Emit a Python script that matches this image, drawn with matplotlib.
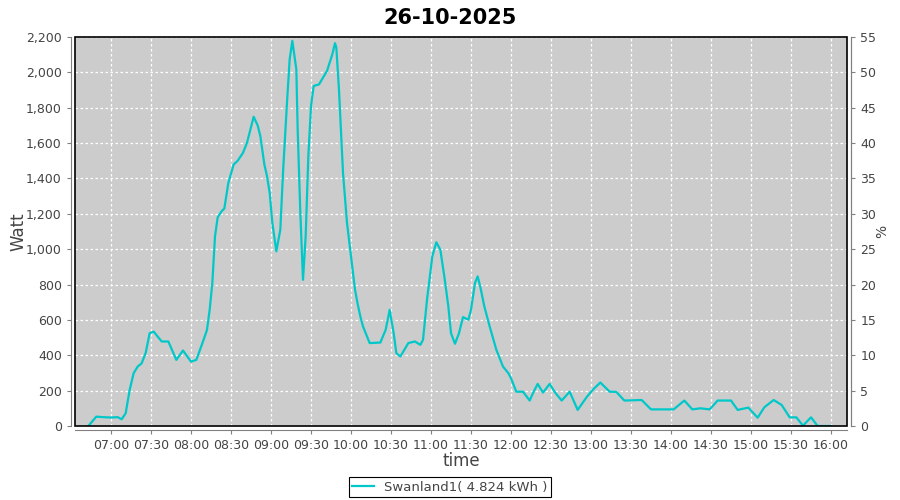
import matplotlib
matplotlib.use('Agg')
import matplotlib.pyplot as plt
import matplotlib.dates as mdates
from matplotlib.patches import Rectangle
from matplotlib.ticker import MultipleLocator, FuncFormatter
from datetime import datetime

# Meetwaarden (tijd, vermogen in Watt)
times = ['06:43', '06:49', '06:54', '07:00', '07:05', '07:08', '07:11', '07:14', '07:17', '07:20',
         '07:23', '07:26', '07:29', '07:32', '07:38', '07:43', '07:49', '07:54', '08:00', '08:04',
         '08:09', '08:12', '08:14', '08:16', '08:18', '08:20', '08:23', '08:25', '08:28', '08:32',
         '08:35', '08:39', '08:42', '08:47', '08:50', '08:52', '08:55', '08:57', '08:59', '09:01',
         '09:04', '09:07', '09:09', '09:12', '09:14', '09:16', '09:19', '09:20', '09:22', '09:24',
         '09:26', '09:28', '09:30', '09:32', '09:36', '09:42', '09:46', '09:48', '09:49', '09:51',
         '09:54', '09:57', '10:00', '10:03', '10:05', '10:07', '10:09', '10:14', '10:22', '10:26',
         '10:29', '10:32', '10:34', '10:37', '10:43', '10:48', '10:52', '10:54', '10:57', '11:01',
         '11:04', '11:07', '11:10', '11:13', '11:15', '11:18', '11:21', '11:24', '11:28', '11:30',
         '11:33', '11:35', '11:37', '11:40', '11:44', '11:49', '11:54', '11:58', '12:00', '12:04',
         '12:09', '12:14', '12:17', '12:20', '12:24', '12:29', '12:33', '12:38', '12:44', '12:50',
         '12:57', '13:02', '13:07', '13:14', '13:19', '13:25', '13:38', '13:45', '14:02', '14:10',
         '14:16', '14:22', '14:29', '14:35', '14:45', '14:50', '14:58', '15:05', '15:10', '15:17',
         '15:23', '15:29', '15:34', '15:39', '15:45', '15:50', '16:00']
watts = [0, 53, 50, 48, 50, 38, 72, 204, 299, 336,
         355, 413, 525, 534, 478, 478, 374, 427, 364, 374,
         478, 544, 657, 809, 1073, 1180, 1215, 1230, 1375, 1479,
         1500, 1545, 1602, 1749, 1700, 1640, 1480, 1413, 1320, 1149,
         988, 1111, 1432, 1829, 2074, 2178, 2017, 1677, 1205, 827,
         1073, 1526, 1809, 1923, 1932, 2008, 2102, 2165, 2140, 1900,
         1432, 1149, 960, 771, 690, 620, 563, 469, 472, 544,
         657, 525, 412, 393, 469, 478, 459, 487, 714, 960,
         1039, 997, 846, 676, 525, 465, 525, 616, 601, 657,
         809, 846, 786, 676, 563, 431, 336, 299, 270, 194,
         194, 144, 194, 238, 189, 238, 190, 144, 194, 91,
         166, 210, 246, 194, 193, 144, 147, 94, 94, 144,
         94, 100, 94, 144, 144, 91, 104, 47, 106, 147,
         119, 49, 49, 2, 49, 0, 0]

title = '26-10-2025'
series_label = 'Swanland1( 4.824 kWh )'

day = '2025-10-26 '
x = [datetime.strptime(day + t, '%Y-%m-%d %H:%M') for t in times]

fig = plt.figure(figsize=(9, 5), dpi=100)
ax = fig.add_axes([75/900, 74/500, 772/900, 389/500])
ax.set_facecolor('#cccccc')

ax.plot(x, watts, color='#00c8c8', linewidth=1.6, zorder=3)

# Assen
ax.set_xlim(datetime(2025, 10, 26, 6, 33), datetime(2025, 10, 26, 16, 12))
ax.set_ylim(0, 2200)
ax.xaxis.set_major_locator(mdates.MinuteLocator(byminute=[0, 30]))
ax.xaxis.set_major_formatter(mdates.DateFormatter('%H:%M'))
ax.yaxis.set_major_locator(MultipleLocator(200))
ax.yaxis.set_major_formatter(FuncFormatter(lambda v, p: f'{int(v):,}'))

ax.grid(True, color='white', linestyle=(0, (2, 2)), linewidth=0.9)
ax.set_axisbelow(True)

for s in ['left', 'bottom', 'right']:
    ax.spines[s].set_position(('outward', 3))
    ax.spines[s].set_color('#808080')
ax.spines['top'].set_visible(False)
ax.add_patch(Rectangle((0, 0), 1, 1, transform=ax.transAxes, fill=False,
                       edgecolor='black', linewidth=1.2, clip_on=False, zorder=5))

ax.tick_params(axis='both', labelsize=9, colors='#808080', labelcolor='#444444', length=3)
ax.set_ylabel('Watt', fontsize=12, color='#444444')
ax.yaxis.set_label_coords(-0.062, 0.5)
ax.set_xlabel('time', fontsize=12, color='#444444')
ax.xaxis.set_label_coords(0.5, -0.066)

# Rechter as in procent
ax2 = ax.twinx()
ax2.set_ylim(0, 55)
ax2.yaxis.set_major_locator(MultipleLocator(5))
ax2.spines['right'].set_position(('outward', 3))
ax2.spines['right'].set_color('#808080')
for s in ['left', 'top', 'bottom']:
    ax2.spines[s].set_visible(False)
ax2.tick_params(axis='y', labelsize=9, colors='#808080', labelcolor='#444444', length=3)
ax2.set_ylabel('%', fontsize=10, color='#444444')
ax2.yaxis.set_label_coords(1.037, 0.5)

fig.suptitle(title, fontsize=15, fontweight='bold', y=0.985)

leg = fig.legend([ax.lines[0]], [series_label], loc='lower center',
                 bbox_to_anchor=(0.5, 0.006), borderaxespad=0, fontsize=9.5, fancybox=False,
                 edgecolor='black', handlelength=1.6, borderpad=0.25, framealpha=1)
leg.get_frame().set_linewidth(0.8)
for t in leg.get_texts():
    t.set_color('#444444')

fig.savefig('out.png', dpi=100)
